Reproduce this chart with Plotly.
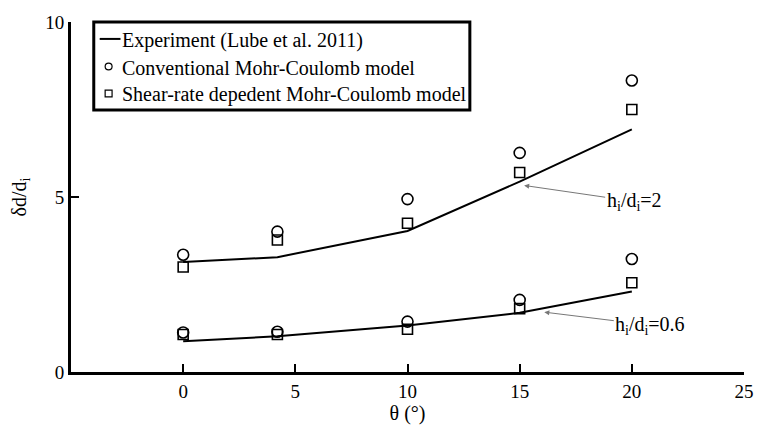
import plotly.graph_objects as go

# Inclination angle (degrees)
theta = [0, 4.2, 10, 15, 20]

# Experimental curves (Lube et al. 2011)
exp_h2 = [3.14, 3.28, 4.03, 5.44, 6.93]
exp_h06 = [0.88, 1.02, 1.33, 1.69, 2.30]

# Conventional Mohr-Coulomb model
mc_h2 = [3.35, 4.01, 4.94, 6.26, 8.33]
mc_h06 = [1.13, 1.15, 1.44, 2.06, 3.23]

# Shear-rate dependent Mohr-Coulomb model
sr_h2 = [3.00, 3.77, 4.25, 5.70, 7.50]
sr_h06 = [1.07, 1.07, 1.22, 1.81, 2.55]

x_ticks = [0, 5, 10, 15, 20, 25]
y_ticks = [0, 5, 10]

legend_labels = ["Experiment (Lube et al. 2011)",
                 "Conventional Mohr-Coulomb model",
                 "Shear-rate depedent Mohr-Coulomb model"]

FONT = "Liberation Serif"
W, H = 766, 432
ML, MR, MT, MB = 71, 15, 15, 55
PW, PH = W - ML - MR, H - MT - MB

line_style = dict(color="black", width=2)
circle_style = dict(symbol="circle-open", size=11, color="black", line=dict(width=1.6))
square_style = dict(symbol="square-open", size=10, color="black", line=dict(width=1.6))

fig = go.Figure()
for ys in (exp_h2, exp_h06):
    fig.add_trace(go.Scatter(x=theta, y=ys, mode="lines", line=line_style, showlegend=False))
for ys in (mc_h2, mc_h06):
    fig.add_trace(go.Scatter(x=theta, y=ys, mode="markers", marker=circle_style, showlegend=False))
for ys in (sr_h2, sr_h06):
    fig.add_trace(go.Scatter(x=theta, y=ys, mode="markers", marker=square_style, showlegend=False))

axis_common = dict(
    showline=True, linecolor="black", linewidth=3,
    ticks="inside", ticklen=8, tickwidth=2, tickcolor="black",
    showgrid=False, zeroline=False, mirror=False,
    tickfont=dict(family=FONT, size=19, color="black"),
)

fig.update_xaxes(range=[-5, 25], tickvals=x_ticks, ticktext=[str(v) for v in x_ticks],
                 title=dict(text="θ (°)", font=dict(family=FONT, size=20, color="black"), standoff=4),
                 **axis_common)
fig.update_yaxes(range=[0, 10], tickvals=y_ticks, ticktext=[str(v) for v in y_ticks],
                 title=dict(text="δd/d<sub>i</sub>", font=dict(family=FONT, size=20, color="black"), standoff=14),
                 **axis_common)

# Labels for the two aspect-ratio curves
ann_font = dict(family=FONT, size=20, color="black")
fig.add_annotation(x=15.2, y=5.33, ax=110, ay=16, text="h<sub>i</sub>/d<sub>i</sub>=2",
                   showarrow=True, arrowhead=2, arrowsize=1, arrowwidth=1, arrowcolor="#777777",
                   standoff=0, font=ann_font)
fig.add_annotation(x=16.1, y=1.71, ax=106, ay=13, text="h<sub>i</sub>/d<sub>i</sub>=0.6",
                   showarrow=True, arrowhead=2, arrowsize=1, arrowwidth=1, arrowcolor="#777777",
                   standoff=0, font=ann_font)


# Boxed legend placed in the upper-left corner of the axes (pixel positions -> paper units)
def px(xp):
    return (xp - ML) / PW


def py(yp):
    return (H - MB - yp) / PH


fig.add_shape(type="rect", xref="paper", yref="paper",
              x0=px(94), x1=px(474), y0=py(106), y1=py(15),
              line=dict(color="black", width=3), fillcolor="white", layer="above")
row_y = [32.5, 61, 89]
fig.add_shape(type="line", xref="paper", yref="paper",
              x0=px(100), x1=px(121), y0=py(row_y[0]), y1=py(row_y[0]),
              line=dict(color="black", width=2), layer="above")
fig.add_shape(type="circle", xref="paper", yref="paper",
              x0=px(105.5), x1=px(112.5), y0=py(row_y[1] + 3.5), y1=py(row_y[1] - 3.5),
              line=dict(color="black", width=1.2), layer="above")
fig.add_shape(type="rect", xref="paper", yref="paper",
              x0=px(105.5), x1=px(112.5), y0=py(row_y[2] + 3.5), y1=py(row_y[2] - 3.5),
              line=dict(color="black", width=1.2), layer="above")
for label, yy in zip(legend_labels, row_y):
    fig.add_annotation(xref="paper", yref="paper", x=px(121), y=py(yy + 1.5),
                       xanchor="left", yanchor="middle", showarrow=False,
                       text=label, font=dict(family=FONT, size=20, color="black"))

fig.update_layout(
    width=W, height=H,
    margin=dict(l=ML, r=MR, t=MT, b=MB),
    paper_bgcolor="white", plot_bgcolor="white",
    font=dict(family=FONT, color="black"),
    showlegend=False,
)

fig.write_html("out.html")
